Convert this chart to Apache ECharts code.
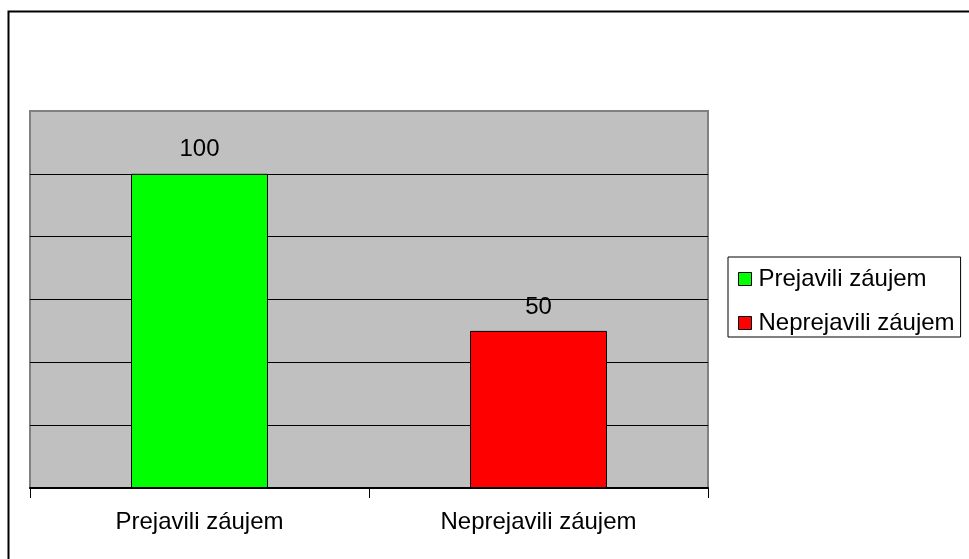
<!DOCTYPE html>
<html lang="sk">
<head>
  <meta charset="UTF-8">
  <title>Záujem</title>
  <script src="https://cdn.jsdelivr.net/npm/echarts@6/dist/echarts.min.js"></script>
</head>
<body style="margin:0;background:#fff">
  <div id="main" style="width:969px;height:559px;"></div>
  <script type="text/javascript">
    var myChart = echarts.init(document.getElementById('main'));

    // data
    const categories = ['Prejavili záujem', 'Neprejavili záujem'];
    const seriesNames = ['Prejavili záujem', 'Neprejavili záujem'];
    const values = [100, 50];
    const colors = ['#00ff00', '#ff0000'];

    const font = 'Arial, "Liberation Sans", sans-serif';

    // jedna séria na kategóriu, aby legenda mala dve farby
    const series = seriesNames.map(function (name, i) {
      const d = categories.map(function (c, j) { return j === i ? values[i] : '-'; });
      return {
        name: name,
        type: 'bar',
        stack: 'all',
        barWidth: 137,
        data: d,
        itemStyle: { color: colors[i], borderColor: '#000', borderWidth: 1 },
        label: {
          show: true,
          position: 'top',
          distance: 12,
          color: '#000',
          fontFamily: font,
          fontSize: 24
        }
      };
    });

    const option = {
      animation: false,
      backgroundColor: '#fff',
      graphic: [{
        type: 'rect',
        shape: { x: 8.5, y: 11.5, width: 1000, height: 600 },
        style: { fill: 'none', stroke: '#000', lineWidth: 2 }
      }],
      grid: {
        left: 30, top: 111, right: 261, bottom: 71,
        show: true,
        backgroundColor: '#c0c0c0',
        borderColor: '#808080',
        borderWidth: 2
      },
      legend: {
        orient: 'vertical',
        left: 728, top: 257,
        padding: [10, 6, 2, 10],
        itemGap: 20,
        itemWidth: 13, itemHeight: 13,
        icon: 'rect',
        borderColor: '#000',
        borderWidth: 1,
        textStyle: { color: '#000', fontFamily: font, fontSize: 24, lineHeight: 24, padding: [0, 0, 0, 2] },
        itemStyle: { borderColor: '#000', borderWidth: 1 },
        data: seriesNames
      },
      xAxis: {
        type: 'category',
        data: categories,
        axisLine: { lineStyle: { color: '#000', width: 2 } },
        axisTick: { show: true, length: 10, lineStyle: { color: '#000' } },
        axisLabel: { color: '#000', fontFamily: font, fontSize: 24, margin: 22 }
      },
      yAxis: {
        type: 'value',
        min: 0, max: 120, interval: 20,
        axisLine: { show: false },
        axisTick: { show: false },
        axisLabel: { show: false },
        splitLine: { lineStyle: { color: ['#000', '#000', '#000', '#000', '#000', '#000', '#808080'], width: 1 } }
      },
      series: series
    };

    myChart.setOption(option);
  </script>
</body>
</html>
